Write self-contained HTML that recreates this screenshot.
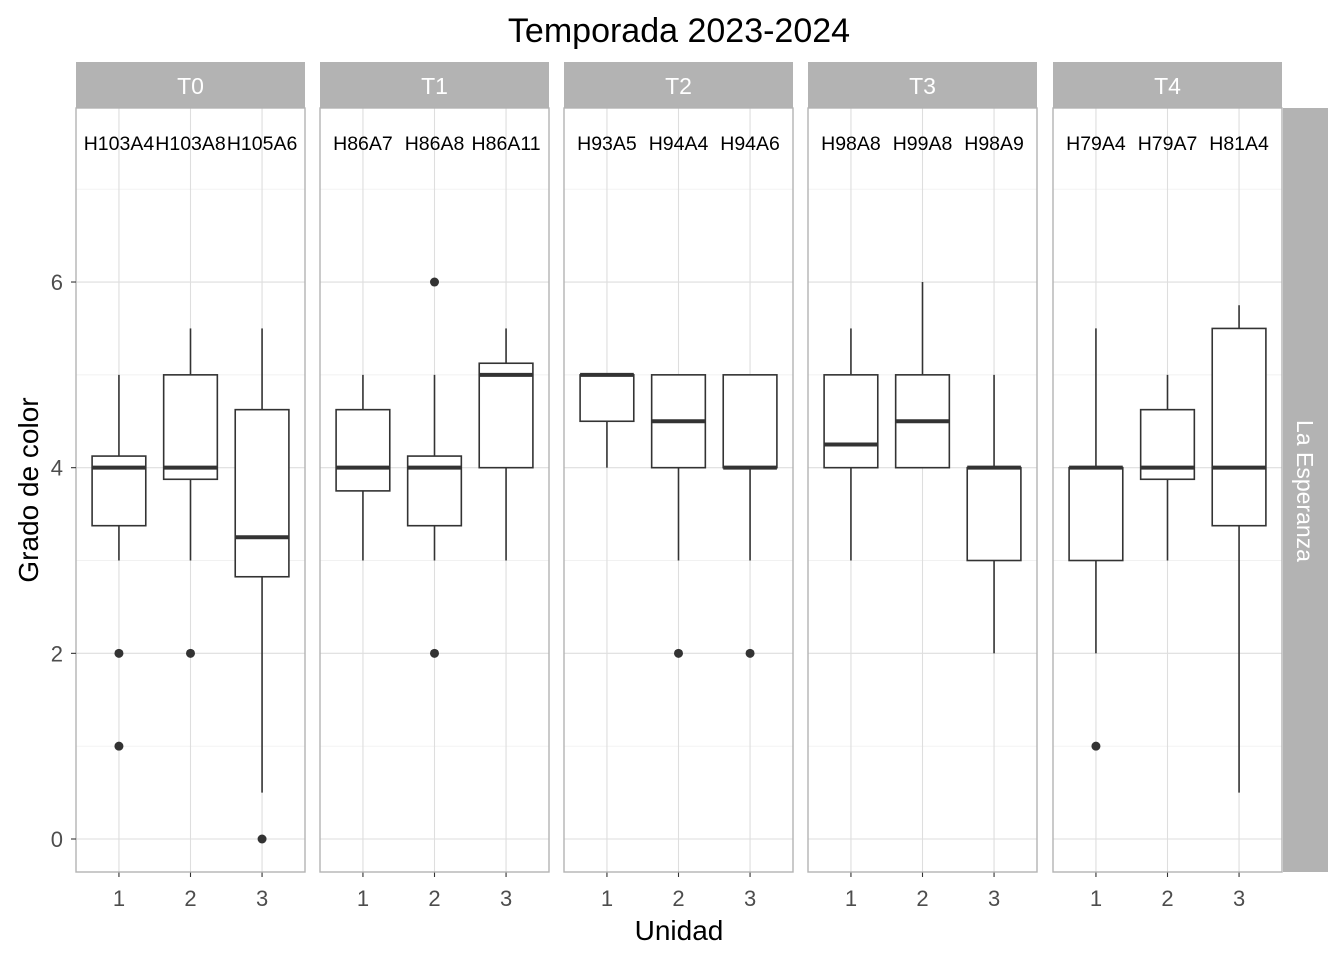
<!DOCTYPE html>
<html><head><meta charset="utf-8"><style>
html,body{margin:0;padding:0;background:#fff}
svg{display:block;font-family:"Liberation Sans",sans-serif}
</style></head><body>
<svg id="chart" width="1344" height="960"></svg>
<script>
const facets = ["T0","T1","T2","T3","T4"];
const unitLabels = [["H103A4","H103A8","H105A6"],["H86A7","H86A8","H86A11"],["H93A5","H94A4","H94A6"],["H98A8","H99A8","H98A9"],["H79A4","H79A7","H81A4"]];
const whiskerLow = [[3,3,0.5],[3,3,3],[4,3,3],[3,4,2],[2,3,0.5]];
const q1 = [[3.375,3.875,2.825],[3.75,3.375,4],[4.5,4,4],[4,4,3],[3,3.875,3.375]];
const medians = [[4,4,3.25],[4,4,5],[5,4.5,4],[4.25,4.5,4],[4,4,4]];
const q3 = [[4.125,5,4.625],[4.625,4.125,5.125],[5,5,5],[5,5,4],[4,4.625,5.5]];
const whiskerHigh = [[5,5.5,5.5],[5,5,5.5],[5,5,5],[5.5,6,5],[5.5,5,5.75]];
const outliers = [[[2,1],[2],[0]],[[],[6,2],[]],[[],[2],[2]],[[],[],[]],[[1],[],[]]];
const yTicks = [0,2,4,6];
const yMinor = [1,3,5,7];
const xTicks = [1,2,3];
const labelY = 7.5;

const svg = document.getElementById('chart');
const NS = "http://www.w3.org/2000/svg";
function mk(tag, attrs, parent){const e=document.createElementNS(NS,tag);for(const k in attrs)e.setAttribute(k,attrs[k]);(parent||svg).appendChild(e);return e;}
const panelX = [76,320,564,808,1053], panelW = 229, panelTop=108, panelBottom=872;
function yS(v){return 839 - v*92.83;}
function xS(p,v){return panelX[p] + (v-0.4)/3.2*panelW;}

const title = mk('text',{x:679,y:42,'text-anchor':'middle','font-size':'34',fill:'#000'});


title.textContent='Temporada 2023-2024';

facets.forEach((f,p)=>{
  const g = mk('g',{});
  
  
  mk('rect',{x:panelX[p],y:panelTop,width:panelW,height:panelBottom-panelTop,fill:'#fff'},g);
  yMinor.forEach(v=>mk('line',{x1:panelX[p],x2:panelX[p]+panelW,y1:yS(v),y2:yS(v),stroke:'#ececec','stroke-width':0.7},g));
  yTicks.forEach(v=>mk('line',{x1:panelX[p],x2:panelX[p]+panelW,y1:yS(v),y2:yS(v),stroke:'#dedede','stroke-width':1.1},g));
  xTicks.forEach(v=>mk('line',{x1:xS(p,v),x2:xS(p,v),y1:panelTop,y2:panelBottom,stroke:'#dedede','stroke-width':1.1},g));
  const s = mk('rect',{x:panelX[p],y:62,width:panelW,height:46,fill:'#b3b3b3'},g);
  
  
  const st = mk('text',{x:panelX[p]+panelW/2,y:94,'text-anchor':'middle','font-size':'23',fill:'#fff'},g);
  st.textContent=f;
  xTicks.forEach((xv,i)=>{
    const cx = xS(p,xv), hw = 0.375/3.2*panelW;
    const b = mk('g',{},g);
    
    
    mk('line',{x1:cx,x2:cx,y1:yS(whiskerLow[p][i]),y2:yS(q1[p][i]),stroke:'#333','stroke-width':1.6},b);
    mk('line',{x1:cx,x2:cx,y1:yS(q3[p][i]),y2:yS(whiskerHigh[p][i]),stroke:'#333','stroke-width':1.6},b);
    mk('rect',{x:cx-hw,y:yS(q3[p][i]),width:2*hw,height:yS(q1[p][i])-yS(q3[p][i]),fill:'#fff',stroke:'#333','stroke-width':1.6},b);
    mk('line',{x1:cx-hw,x2:cx+hw,y1:yS(medians[p][i]),y2:yS(medians[p][i]),stroke:'#333','stroke-width':4},b);
    outliers[p][i].forEach(o=>mk('circle',{cx:cx,cy:yS(o),r:4.5,fill:'#333'},b));
    const lt = mk('text',{x:cx,y:yS(labelY)+7,'text-anchor':'middle','font-size':'19.5',fill:'#000'},g);
    
    
    lt.textContent=unitLabels[p][i];
    mk('line',{x1:cx,x2:cx,y1:panelBottom,y2:panelBottom+5,stroke:'#333','stroke-width':1.1},g);
    const xt = mk('text',{x:cx,y:panelBottom+34,'text-anchor':'middle','font-size':'22',fill:'#4d4d4d'},g);
    
    
    xt.textContent=xv;
  });
  mk('rect',{x:panelX[p],y:panelTop,width:panelW,height:panelBottom-panelTop,fill:'none',stroke:'#b3b3b3','stroke-width':1.4},g);
});
yTicks.forEach(v=>{
  mk('line',{x1:71,x2:76,y1:yS(v),y2:yS(v),stroke:'#333','stroke-width':1.1});
  const yt = mk('text',{x:63,y:yS(v)+8,'text-anchor':'end','font-size':'22',fill:'#4d4d4d'});
  
  
  yt.textContent=v;
});
const rs = mk('rect',{x:1283,y:108,width:45,height:764,fill:'#b3b3b3'});


const rt = mk('text',{x:1297,y:491,'text-anchor':'middle','font-size':'23',fill:'#fff',transform:'rotate(90 1297 491)'});
rt.textContent='La Esperanza';
const xa = mk('text',{x:679,y:940,'text-anchor':'middle','font-size':'28',fill:'#000'});


xa.textContent='Unidad';
const ya = mk('text',{x:38,y:490,'text-anchor':'middle','font-size':'28',fill:'#000',transform:'rotate(-90 38 490)'});


ya.textContent='Grado de color';
</script>
</body></html>
